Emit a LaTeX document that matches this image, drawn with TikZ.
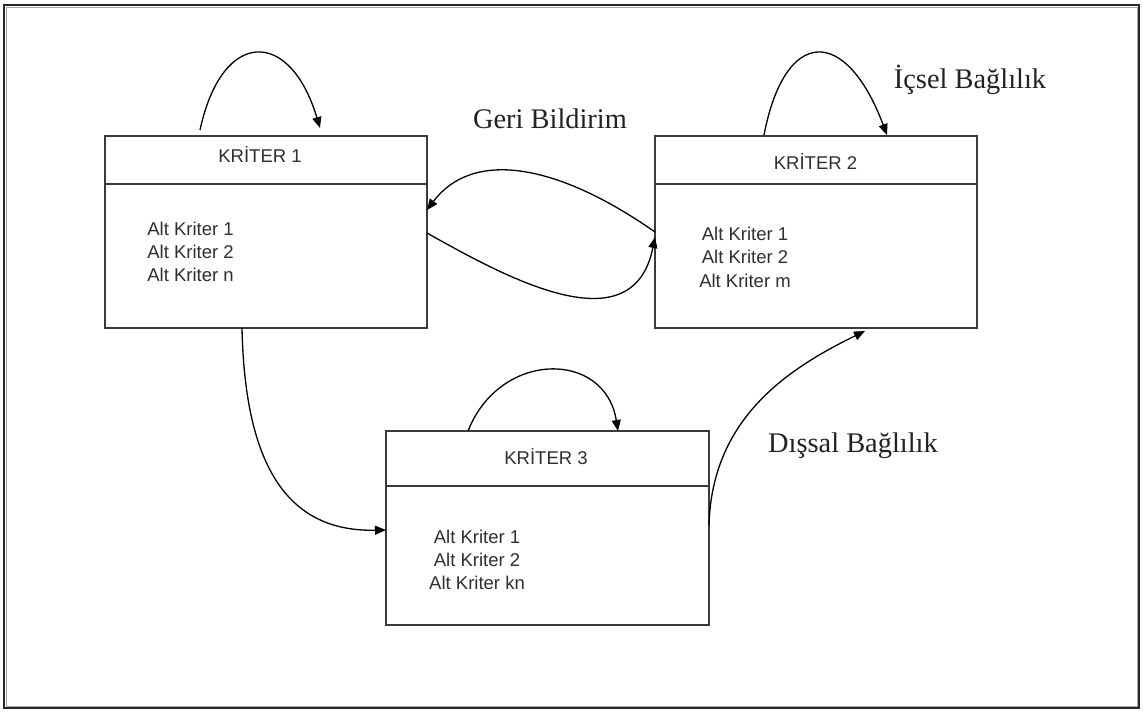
\documentclass[tikz,border=0pt]{standalone}
\usepackage{fontspec}
\setmainfont{Liberation Serif}
\setsansfont{Liberation Sans}
\usetikzlibrary{arrows.meta,calc}
\definecolor{boxline}{HTML}{3A3A3A}
\definecolor{txt}{HTML}{2E2E2E}
\definecolor{lbltxt}{HTML}{222222}
\definecolor{frameout}{HTML}{2A2A2A}
\definecolor{framein}{HTML}{A8A8A8}
\begin{document}
\begin{tikzpicture}[x=1pt,y=-1pt,
  box/.style={draw=boxline, line width=1.6pt, minimum width=322pt, minimum height=192pt, inner sep=0pt, outer sep=0pt},
  divider/.style={draw=boxline, line width=1.6pt},
  hdr/.style={font=\sffamily\fontsize{18.5}{23}\selectfont, text=txt, anchor=base, inner sep=0pt},
  sub/.style={font=\sffamily\fontsize{18.5}{23}\selectfont, text=txt, anchor=base, inner sep=0pt},
  lbl/.style={font=\fontsize{28.4}{32}\selectfont, text=lbltxt, anchor=base, inner sep=0pt},
  link/.style={draw=black, line width=1.3pt, -{Triangle[length=11pt,width=9pt]}}]
\useasboundingbox (0,0) rectangle (1143,713);

% outer frame
\draw[frameout, line width=1.6pt] (4,5) rectangle (1139,708);
\draw[framein, line width=1pt] (6,7) rectangle (1137,706);

% criterion boxes
\node[box] (k1) at (266,232) {};
\node[box] (k2) at (816,232) {};
\node[box, minimum width=323pt, minimum height=194pt] (k3) at (547.5,528) {};

\draw[divider] ([yshift=-48pt]k1.north west) -- ([yshift=-48pt]k1.north east);
\draw[divider] ([yshift=-48pt]k2.north west) -- ([yshift=-48pt]k2.north east);
\draw[divider] ([yshift=-55pt]k3.north west) -- ([yshift=-55pt]k3.north east);

% headers
\node[hdr] (h1) at (260,162) {KRİTER 1};
\node[hdr] (h2) at (815.5,169) {KRİTER 2};
\node[hdr] (h3) at (546,464) {KRİTER 3};

% sub-criteria
\node[sub] (s11) at (190.5,235) {Alt Kriter 1};
\node[sub] (s12) at (190.5,258) {Alt Kriter 2};
\node[sub] (s13) at (190.5,281) {Alt Kriter n};

\node[sub] (s21) at (745,240) {Alt Kriter 1};
\node[sub] (s22) at (745,263) {Alt Kriter 2};
\node[sub] (s23) at (745,287) {Alt Kriter m};

\node[sub] (s31) at (477,543) {Alt Kriter 1};
\node[sub] (s32) at (477,566) {Alt Kriter 2};
\node[sub] (s33) at (477,589) {Alt Kriter kn};

% labels
\node[lbl] (geri) at (550,128) {Geri Bildirim};
\node[lbl] (icsel) at (970,88) {İçsel Bağlılık};
\node[lbl] (dissal) at (853,452) {Dışsal Bağlılık};

% connector end points
\coordinate (l1a) at ($(k1.north west)+(95,-6)$);
\coordinate (l1b) at ($(k1.north west)+(215,-8)$);
\coordinate (l2a) at ($(k2.north west)+(109,-1)$);
\coordinate (l2b) at ($(k2.north west)+(232,-1)$);
\coordinate (l3a) at ($(k3.north west)+(82,0)$);
\coordinate (l3b) at ($(k3.north west)+(232,0)$);
\coordinate (fbin) at ($(k1.east)+(0,-22)$);
\coordinate (fbout) at ($(k1.east)+(0,1)$);
\coordinate (k2in) at ($(k2.west)+(0,5)$);
\coordinate (k1down) at ($(k1.south)+(-24,0)$);
\coordinate (k3in) at ($(k3.west)+(0,2)$);
\coordinate (k3out) at ($(k3.east)+(0,-3)$);
\coordinate (k2bot) at ($(k2.south)+(49,3)$);

% inner dependence loops
\draw[link] (l1a) .. controls +(22,-102) and +(-30,-100) .. (l1b);
\draw[link] (l2a) .. controls +(21,-109) and +(-41,-109) .. (l2b);
\draw[link] (l3a) .. controls +(32,-81) and +(-13,-81) .. (l3b);

% feedback between criterion 1 and 2
\draw[link] (k2.west) .. controls +(-100,-70) and +(45,-60) .. (fbin);
\draw[link] (fbout) .. controls +(80,45) and +(-22,110) .. (k2in);

% outer dependence
\draw[link] (k1down) .. controls +(3,142) and +(-96,2) .. (k3in);
\draw[link] (k3out) .. controls +(3,-105) and +(-80,39) .. (k2bot);
\end{tikzpicture}
\end{document}
